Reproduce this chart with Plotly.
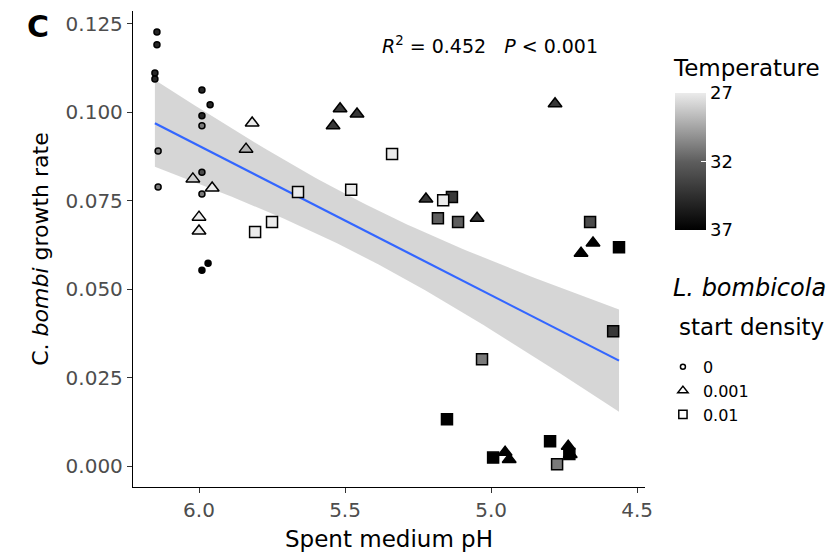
import numpy as np
import plotly.graph_objects as go

# Spent medium pH, C. bombi growth rate and incubation temperature,
# one list per L. bombicola start density
ph_d0 = [6.144, 6.144, 6.151, 6.151, 6.140, 6.140, 5.990, 5.962, 5.990, 5.990,
         5.990, 5.990, 5.969, 5.990]
rate_d0 = [0.1227, 0.1191, 0.1111, 0.1094, 0.0891, 0.0789, 0.1063, 0.1021, 0.0990,
           0.0962, 0.0831, 0.0769, 0.0574, 0.0554]
temp_d0 = [35, 35, 35, 35, 31, 31, 35, 35, 35, 31, 33, 31, 37, 37]

ph_d1 = [5.818, 5.839, 6.021, 5.955, 6.000, 6.000, 5.517, 5.459, 5.541, 5.223,
         5.048, 4.781, 4.692, 4.651, 4.952, 4.938, 4.736, 4.729]
rate_d1 = [0.0970, 0.0896, 0.0812, 0.0786, 0.0704, 0.0665, 0.1010, 0.0995, 0.0962,
           0.0755, 0.0701, 0.1024, 0.0602, 0.0631, 0.0040, 0.0020, 0.0057, 0.0034]
temp_d1 = [27, 29, 28, 27, 27, 27, 34, 34, 34, 34, 34, 34, 37, 37, 37, 37, 37, 37]

ph_d2 = [5.339, 5.479, 5.661, 5.750, 5.808, 5.134, 5.164, 5.182, 5.113, 4.661,
         4.562, 4.582, 5.031, 5.151, 4.993, 4.798, 4.732, 4.774]
rate_d2 = [0.0882, 0.0781, 0.0775, 0.0690, 0.0662, 0.0761, 0.0752, 0.0701, 0.0690,
           0.0690, 0.0619, 0.0382, 0.0303, 0.0133, 0.0025, 0.0071, 0.0035, 0.0006]
temp_d2 = [27, 27, 27, 27, 27, 34, 27, 32, 32, 33, 37, 34, 31, 37, 37, 37, 37, 31]

density_labels = ["0", "0.001", "0.01"]
temp_ticks = [27, 32, 37]

FONT = "DejaVu Sans, Liberation Sans, sans-serif"
GREY_SCALE = [[0.0, "#000000"], [0.5, "#5e5e5e"], [1.0, "#ebebeb"]]

# linear fit with 95% confidence band
x_all = np.array(ph_d0 + ph_d1 + ph_d2)
y_all = np.array(rate_d0 + rate_d1 + rate_d2)
n = len(x_all)
slope, intercept = np.polyfit(x_all, y_all, 1)
resid = y_all - (slope * x_all + intercept)
s = np.sqrt(np.sum(resid ** 2) / (n - 2))
xbar = x_all.mean()
sxx = np.sum((x_all - xbar) ** 2)
xs = np.linspace(x_all.min(), x_all.max(), 80)
fit = slope * xs + intercept
half = 2.01 * s * np.sqrt(1.0 / n + (xs - xbar) ** 2 / sxx)

fig = go.Figure()
fig.add_trace(go.Scatter(
    x=np.concatenate([xs, xs[::-1]]),
    y=np.concatenate([fit + half, (fit - half)[::-1]]),
    fill="toself", fillcolor="rgba(153,153,153,0.4)", line=dict(width=0),
    mode="lines", hoverinfo="skip", showlegend=False))
fig.add_trace(go.Scatter(x=xs, y=fit, mode="lines",
                         line=dict(color="#3366FF", width=2.2),
                         hoverinfo="skip", showlegend=False))

groups = [
    (ph_d0, rate_d0, temp_d0, "circle", 6),
    (ph_d1, rate_d1, temp_d1, "triangle-up", 12),
    (ph_d2, rate_d2, temp_d2, "square", 11),
]
for i, (px, py, pt, sym, size) in enumerate(groups):
    fig.add_trace(go.Scatter(
        x=px, y=py, mode="markers", showlegend=False,
        marker=dict(
            symbol=sym, size=size,
            color=[-t for t in pt], cmin=-max(temp_ticks), cmax=-min(temp_ticks),
            colorscale=GREY_SCALE,
            line=dict(color="black", width=1.5),
            showscale=(i == 0),
            colorbar=dict(
                x=1.058, xanchor="left", y=0.684, yanchor="middle",
                len=137, lenmode="pixels", thickness=31, thicknessmode="pixels",
                ypad=0, xpad=0, outlinewidth=0,
                tickvals=[-t for t in temp_ticks], ticktext=[str(t) for t in temp_ticks],
                ticks="inside", ticklen=5, tickcolor="white", tickwidth=1,
                tickfont=dict(size=18, color="black", family=FONT),
            ),
        )))

# shape legend entries
for lab, (_, _, _, sym, size) in zip(density_labels, groups):
    fig.add_trace(go.Scatter(
        x=[None], y=[None], mode="markers", name=lab, showlegend=True,
        marker=dict(symbol=sym, size=size * 0.75 if sym != "circle" else 5,
                    color="white", line=dict(color="black", width=1.5))))

fig.add_annotation(x=0.697, y=0.929, xref="paper", yref="paper", showarrow=False,
                   xanchor="center", yanchor="middle",
                   text="<i>R</i><sup>2</sup> = 0.452   <i>P</i> < 0.001",
                   font=dict(size=19, color="black", family=FONT))
fig.add_annotation(x=-0.186, y=0.968, xref="paper", yref="paper", showarrow=False,
                   xanchor="center", yanchor="middle",
                   text="<b>C</b>", font=dict(size=30, color="black", family=FONT))
fig.add_annotation(x=1.051, y=0.880, xref="paper", yref="paper", showarrow=False,
                   xanchor="left", yanchor="middle", text="Temperature",
                   font=dict(size=23, color="black", family=FONT))
fig.add_annotation(x=1.051, y=0.418, xref="paper", yref="paper", showarrow=False,
                   xanchor="left", yanchor="middle", text="<i>L. bombicola</i>",
                   font=dict(size=24, color="black", family=FONT))
fig.add_annotation(x=1.062, y=0.336, xref="paper", yref="paper", showarrow=False,
                   xanchor="left", yanchor="middle", text="start density",
                   font=dict(size=23, color="black", family=FONT))

axis_common = dict(showgrid=False, zeroline=False, showline=True, linecolor="black",
                   linewidth=1.3, ticks="outside", ticklen=5, tickcolor="#333333",
                   tickfont=dict(size=20, color="#4d4d4d", family=FONT))

fig.update_layout(
    width=836, height=557,
    margin=dict(l=133, r=191, t=11, b=70),
    plot_bgcolor="white", paper_bgcolor="white",
    font=dict(family=FONT, color="black"),
    xaxis=dict(range=[6.226, 4.473], tickvals=[6.0, 5.5, 5.0, 4.5],
               ticktext=["6.0", "5.5", "5.0", "4.5"],
               title=dict(text="Spent medium pH", font=dict(size=23), standoff=9),
               **axis_common),
    yaxis=dict(range=[-0.0058, 0.1286], tickvals=[0, 0.025, 0.05, 0.075, 0.1, 0.125],
               tickformat=".3f",
               title=dict(text="C. <i>bombi</i> growth rate", font=dict(size=22), standoff=10),
               **axis_common),
    legend=dict(x=1.035, xanchor="left", y=0.288, yanchor="top",
                font=dict(size=16, color="black", family=FONT),
                itemsizing="trace", tracegroupgap=0, bgcolor="rgba(0,0,0,0)"),
    showlegend=True,
)

fig.write_html("out.html")
